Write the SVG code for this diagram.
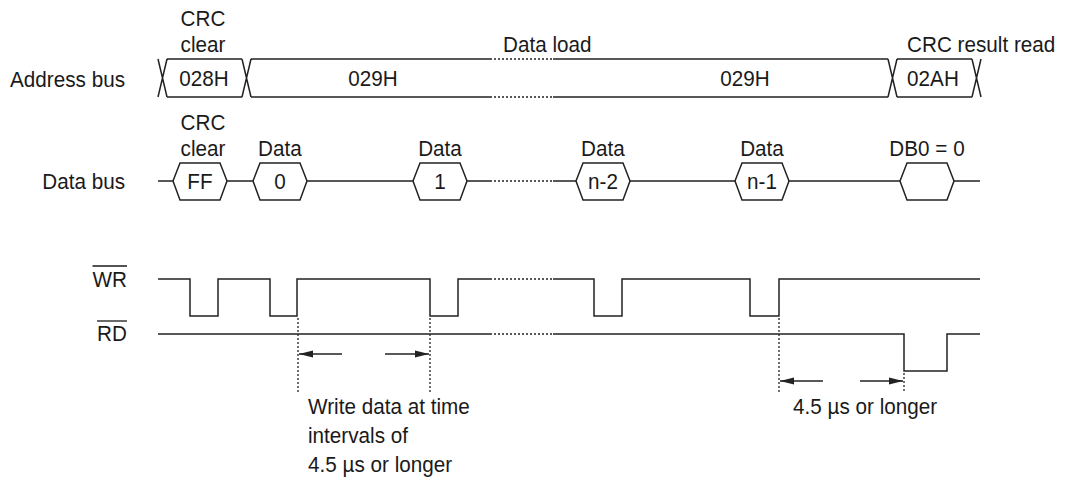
<svg xmlns="http://www.w3.org/2000/svg" width="1066" height="483" viewBox="0 0 1066 483">
<style>
text{font-family:"Liberation Sans",Arial,sans-serif;font-size:22.5px;fill:#1a1a1a}
.c{text-anchor:middle}
.r{text-anchor:end}
.w{fill:none;stroke:#222;stroke-width:1.5}
.d{fill:none;stroke:#222;stroke-width:1.3;stroke-dasharray:2 2}
.o{stroke:#1a1a1a;stroke-width:1.3}
.a{fill:none;stroke:#222;stroke-width:1.5;marker-end:url(#ah)}
</style>
<defs>
<marker id="ah" viewBox="0 0 14 8" refX="14" refY="4" markerWidth="14" markerHeight="8" markerUnits="userSpaceOnUse" orient="auto">
<path d="M0,0.5 L14,4 L0,7.5 Z" fill="#222"/>
</marker>
</defs>
<g id="labels">
<g transform="scale(0.92,1)">
<text class="r" x="135.9" y="87">Address bus</text>
<text class="r" x="135.9" y="189">Data bus</text>
<text class="r" x="138" y="287">WR</text>
<text class="r" x="138" y="341">RD</text>
</g>
<line class="o" x1="92.5" y1="266" x2="127" y2="266"/>
<line class="o" x1="97" y1="321" x2="127" y2="321"/>
</g>
<g id="address-bus">
<g transform="scale(0.92,1)">
<text class="c" x="220.7" y="26">CRC</text>
<text class="c" x="220.7" y="52">clear</text>
<text x="546.7" y="52">Data load</text>
<text x="985.9" y="52">CRC result read</text>
<text class="c" x="221.7" y="86">028H</text>
<text class="c" x="405.4" y="86">029H</text>
<text class="c" x="809.8" y="86">029H</text>
<text class="c" x="1014.1" y="86">02AH</text>
</g>
<path class="w" d="M158,59 L167,97 M167,59 L158,97 M167,59 H242 M167,97 H242 M242,59 L251,97 M251,59 L242,97 M251,59 H490 M251,97 H490 M553,59 H888 M553,97 H888 M888,59 L897,97 M897,59 L888,97 M897,59 H972 M897,97 H972 M972,59 L981,97 M981,59 L972,97"/>
<path class="d" d="M490,59 H553 M490,97 H553"/>
</g>
<g id="data-bus">
<g transform="scale(0.92,1)">
<text class="c" x="220.7" y="130">CRC</text>
<text class="c" x="220.7" y="156">clear</text>
<text class="c" x="304.3" y="156">Data</text>
<text class="c" x="478.3" y="156">Data</text>
<text class="c" x="655.4" y="156">Data</text>
<text class="c" x="828.3" y="156">Data</text>
<text class="c" x="1007.6" y="156">DB0 = 0</text>
<text class="c" x="217.4" y="189">FF</text>
<text class="c" x="304.3" y="189">0</text>
<text class="c" x="478.3" y="189">1</text>
<text class="c" x="655.4" y="189">n-2</text>
<text class="c" x="828.3" y="189">n-1</text>
</g>
<path class="w" d="M158,181 H173 M227,181 H253 M307,181 H413 M467,181 H490 M553,181 H576 M630,181 H735 M789,181 H900 M954,181 H980"/>
<path class="d" d="M490,181 H553"/>
<path class="w" d="M173,181 L180,163 H220 L227,181 L220,200 H180 Z"/>
<path class="w" d="M253,181 L260,163 H300 L307,181 L300,200 H260 Z"/>
<path class="w" d="M413,181 L420,163 H460 L467,181 L460,200 H420 Z"/>
<path class="w" d="M576,181 L583,163 H623 L630,181 L623,200 H583 Z"/>
<path class="w" d="M735,181 L742,163 H782 L789,181 L782,200 H742 Z"/>
<path class="w" d="M900,181 L907,163 H947 L954,181 L947,200 H907 Z"/>
</g>
<g id="wr">
<path class="w" d="M158,279 H190 V316 H218 V279 H270 V316 H297 V279 H430 V316 H458 V279 H490 M553,279 H594 V316 H622 V279 H750 V316 H779 V279 H980"/>
<path class="d" d="M490,279 H553"/>
</g>
<g id="rd">
<path class="w" d="M158,334 H490 M553,334 H904 V371 H947 V334 H980"/>
<path class="d" d="M490,334 H553"/>
</g>
<g id="timing">
<path class="d" d="M298,318 V393 M430,318 V393 M779,318 V393 M904,373 V393"/>
<line class="a" x1="342" y1="354" x2="299" y2="354"/>
<line class="a" x1="385" y1="354" x2="429" y2="354"/>
<line class="a" x1="823" y1="381" x2="780" y2="381"/>
<line class="a" x1="860" y1="381" x2="903" y2="381"/>
<g transform="scale(0.92,1)">
<text x="334.8" y="414">Write data at time</text>
<text x="334.8" y="443">intervals of</text>
<text x="334.8" y="472">4.5 µs or longer</text>
<text x="862" y="414">4.5 µs or longer</text>
</g>
</g>
</svg>
